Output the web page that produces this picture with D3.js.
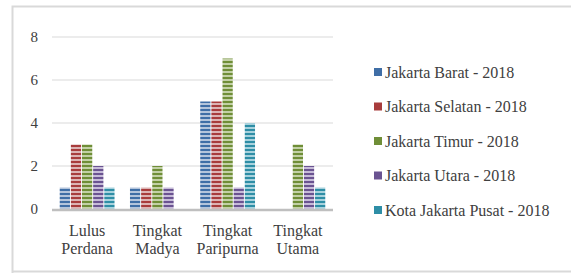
<!DOCTYPE html>
<html><head><meta charset="utf-8">
<script src="https://cdn.jsdelivr.net/npm/d3@7"></script>
<style>body{margin:0;background:#fff}svg{display:block}svg text{font-family:"Liberation Serif",serif}</style>
</head><body><svg id="c" width="571" height="273"></svg>
<script>
const categories = [["Lulus","Perdana"],["Tingkat","Madya"],["Tingkat","Paripurna"],["Tingkat","Utama"]];
const seriesNames = ["Jakarta Barat - 2018","Jakarta Selatan - 2018","Jakarta Timur - 2018","Jakarta Utara - 2018","Kota Jakarta Pusat - 2018"];
const barat   = [1,1,5,0];
const selatan = [3,1,5,0];
const timur   = [3,2,7,3];
const utara   = [2,1,1,2];
const pusat   = [1,0,4,1];
const yTicks  = [0,2,4,6,8];
const colors  = ["#3f6ea6","#a83c3c","#6f8e37","#6a5391","#2e8ea6"];
const lights  = ["#b3c4db","#dcb3b3","#c2d0a6","#c6bbd8","#a8d2dd"];
const FONT = "Liberation Serif";

const values = [barat, selatan, timur, utara, pusat];
const svg = d3.select("#c");
const defs = svg.append("defs");
colors.forEach((c,i)=>{
  const p = defs.append("pattern").attr("id","p"+i).attr("patternUnits","userSpaceOnUse")
    .attr("width",6).attr("height",4);
  p.append("rect").attr("width",6).attr("height",4).attr("fill",lights[i]);
  p.append("rect").attr("x",0).attr("y",1).attr("width",6).attr("height",2).attr("fill",c);
});

svg.append("path").attr("d","M12.5,600 L12.5,6.5 L600,6.5").attr("fill","none").attr("stroke","#d9d9d9").attr("stroke-width",2);
svg.append("path").attr("d","M12.5,271.5 L600,271.5").attr("fill","none").attr("stroke","#d9d9d9").attr("stroke-width",2);

const x0 = d3.scaleBand().domain(d3.range(categories.length)).range([52,333]).paddingInner(0.22).paddingOuter(0.11);
const x1 = d3.scaleBand().domain(d3.range(seriesNames.length)).range([0,x0.bandwidth()]).paddingInner(0.08);
const y = d3.scaleLinear().domain([0,8]).range([209,37]);

svg.append("g").selectAll("line").data(yTicks.filter(d=>d>0)).join("line")
  .attr("x1",52).attr("x2",333).attr("y1",d=>y(d)).attr("y2",d=>y(d))
  .attr("stroke","#d9d9d9").attr("stroke-width",1.2);

const yAxis = d3.axisLeft(y).tickValues(yTicks).tickSize(0).tickPadding(14).tickFormat(d3.format("d"));
const ya = svg.append("g").attr("transform","translate(52,0)").call(yAxis);
ya.attr("font-family", null).attr("font-size", null);
ya.select(".domain").remove();

function styleText(sel, size){
  return sel.attr("font-family",FONT).attr("font-size",size).attr("fill","#404040")
    .style("font-size",size+"px");
}
styleText(ya.selectAll("text"), 15);

const g = svg.append("g");
values.forEach((vals,si)=>{
  g.selectAll(null).data(vals.map((v,ci)=>({v,ci}))).join("rect")
    .attr("x",d=>x0(d.ci)+x1(si)).attr("width",x1.bandwidth())
    .attr("y",d=>y(d.v)).attr("height",d=>y(0)-y(d.v))
    .attr("fill","url(#p"+si+")");
});

svg.append("line").attr("x1",52).attr("x2",333).attr("y1",y(0)+1).attr("y2",y(0)+1)
  .attr("stroke","#bfbfbf").attr("stroke-width",2.5);

const xa = svg.append("g");
categories.forEach((lines,i)=>{
  const cx = x0(i)+x0.bandwidth()/2;
  lines.forEach((l,k)=>styleText(xa.append("text"),16).attr("text-anchor","middle")
    .attr("x",cx).attr("y",236+k*18).text(l));
});

const lg = svg.append("g");
seriesNames.forEach((n,i)=>{
  const yy = 72 + i*34.5;
  lg.append("rect").attr("x",374).attr("y",yy-4).attr("width",8).attr("height",8).attr("fill",colors[i]);
  styleText(lg.append("text"),16).attr("x",385).attr("y",yy+5.5).text(n);
});
</script></body></html>
